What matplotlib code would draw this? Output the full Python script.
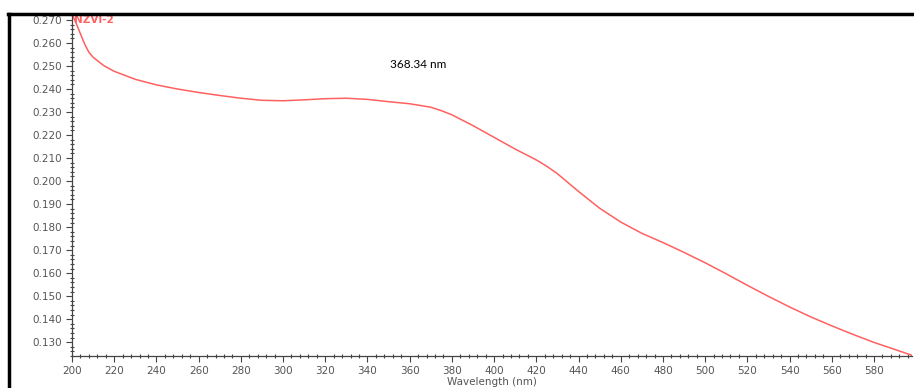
import numpy as np
import matplotlib
matplotlib.use("Agg")
import matplotlib.pyplot as plt
from matplotlib.lines import Line2D
from matplotlib.ticker import MultipleLocator

# spectrum
wavelength = [200, 202, 204, 206, 208, 210, 215, 220, 230, 240, 250, 260, 270, 280, 290,
              300, 310, 320, 330, 340, 350, 360, 370, 375, 380, 390, 400, 410, 420, 425,
              430, 440, 450, 460, 470, 480, 490, 500, 510, 520, 530, 540, 550, 560, 570,
              580, 590, 598]
absorbance = [0.2725, 0.2685, 0.2640, 0.2595, 0.2560, 0.2538, 0.2502, 0.2477, 0.2442, 0.2418,
              0.2400, 0.2385, 0.2372, 0.2360, 0.2351, 0.2349, 0.2353, 0.2358, 0.2360, 0.2355,
              0.2345, 0.2336, 0.2321, 0.2306, 0.2288, 0.2241, 0.2190, 0.2139, 0.2092, 0.2064,
              0.2032, 0.1955, 0.1882, 0.1822, 0.1773, 0.1733, 0.1690, 0.1645, 0.1597, 0.1547,
              0.1499, 0.1453, 0.1410, 0.1371, 0.1334, 0.1299, 0.1268, 0.1243]
series_label = "NZVI-2"
peak_label = "368.34 nm"

fig = plt.figure(figsize=(9.14, 3.88), dpi=100)
ax = fig.add_axes([72 / 914, 1 - 356 / 388, 840 / 914, 342 / 388])

ax.plot(wavelength, absorbance, color="#ff6060", lw=1.1)
ax.set_xlim(200, 598)
ax.set_ylim(0.124, 0.2726)

ax.xaxis.set_major_locator(MultipleLocator(20))
ax.xaxis.set_minor_locator(MultipleLocator(4))
ax.yaxis.set_major_locator(MultipleLocator(0.01))
ax.yaxis.set_minor_locator(MultipleLocator(0.002))
ax.yaxis.set_major_formatter(matplotlib.ticker.FormatStrFormatter("%.3f"))

for s in ["top", "right"]:
    ax.spines[s].set_visible(False)
for s in ["left", "bottom"]:
    ax.spines[s].set_color("#444444")
    ax.spines[s].set_linewidth(0.9)

ax.tick_params(which="major", direction="out", length=4, width=0.8, color="#444444",
               labelsize=7.5, labelcolor="#555555", pad=3)
ax.tick_params(which="minor", direction="inout", length=3, width=0.8, color="#444444")
ax.set_xlabel("Wavelength (nm)", fontsize=7.5, color="#555555", labelpad=1)

ax.text(201, 0.2700, series_label, color="#ff6060", fontsize=7.5, fontweight="bold",
        va="center", ha="left")
ax.text(364, 0.2505, peak_label, color="black", fontsize=8.5, family="Lato",
        ha="center", va="center")

# outer frame around the screenshot
fig.add_artist(Line2D([9 / 914, 9 / 914], [0, 1 - 14 / 388], color="black", lw=2.5,
                      transform=fig.transFigure))
fig.add_artist(Line2D([8 / 914, 1], [1 - 14 / 388, 1 - 14 / 388], color="black", lw=2.5,
                      transform=fig.transFigure))

fig.savefig("out.png", dpi=100)
